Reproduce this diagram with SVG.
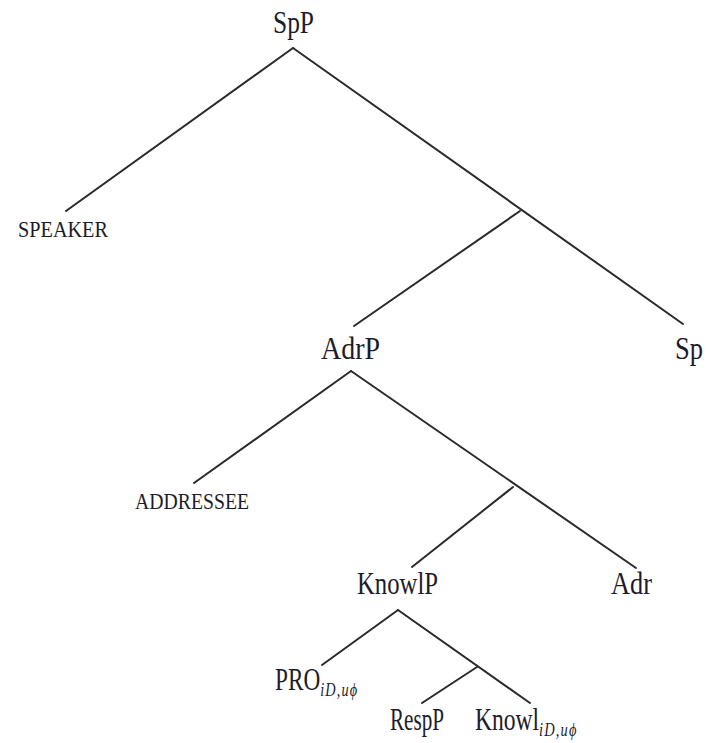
<svg xmlns="http://www.w3.org/2000/svg" width="713" height="743" viewBox="0 0 713 743">
<style>
.lbl{font-family:"Liberation Serif","Times New Roman",serif;font-size:31px;fill:#1c1c2a}
.sc{font-family:"Liberation Serif","Times New Roman",serif;font-size:23px;fill:#1c1c2a}
.sub{font-size:19px;font-style:italic;letter-spacing:1.5px}
.edge{stroke:#2a2a2a;stroke-width:2;fill:none;stroke-linecap:round}
</style>
<rect width="713" height="743" fill="#ffffff"/>
<g id="connectors">
<line class="edge" x1="293" y1="48" x2="66" y2="211"/>
<line class="edge" x1="293" y1="48" x2="683" y2="324"/>
<line class="edge" x1="520" y1="211" x2="354" y2="326"/>
<line class="edge" x1="351" y1="371" x2="194" y2="483"/>
<line class="edge" x1="351" y1="371" x2="636" y2="568"/>
<line class="edge" x1="513" y1="487" x2="412" y2="567"/>
<line class="edge" x1="398" y1="610" x2="322" y2="665"/>
<line class="edge" x1="398" y1="610" x2="530" y2="703"/>
<line class="edge" x1="477" y1="667" x2="422" y2="703"/>
</g>
<g id="node-SpP"><text class="lbl" x="273" y="33" textLength="41" lengthAdjust="spacingAndGlyphs">SpP</text></g>
<g id="node-SPEAKER"><text class="sc" x="18" y="237" textLength="90" lengthAdjust="spacingAndGlyphs">SPEAKER</text></g>
<g id="node-AdrP"><text class="lbl" x="321" y="359" textLength="59" lengthAdjust="spacingAndGlyphs">AdrP</text></g>
<g id="node-Sp"><text class="lbl" x="675" y="359" textLength="28" lengthAdjust="spacingAndGlyphs">Sp</text></g>
<g id="node-ADDRESSEE"><text class="sc" x="135" y="509" textLength="114" lengthAdjust="spacingAndGlyphs">ADDRESSEE</text></g>
<g id="node-KnowlP"><text class="lbl" x="357" y="594" textLength="81" lengthAdjust="spacingAndGlyphs">KnowlP</text></g>
<g id="node-Adr"><text class="lbl" x="611" y="594" textLength="41" lengthAdjust="spacingAndGlyphs">Adr</text></g>
<g id="node-PRO"><text class="lbl" transform="translate(275,690) scale(0.75,1)">PRO<tspan class="sub" dy="6">iD,uϕ</tspan></text></g>
<g id="node-RespP"><text class="lbl" x="390" y="730" textLength="54" lengthAdjust="spacingAndGlyphs">RespP</text></g>
<g id="node-Knowl"><text class="lbl" transform="translate(475,730) scale(0.76,1)">Knowl<tspan class="sub" dy="6">iD,uϕ</tspan></text></g>
</svg>
